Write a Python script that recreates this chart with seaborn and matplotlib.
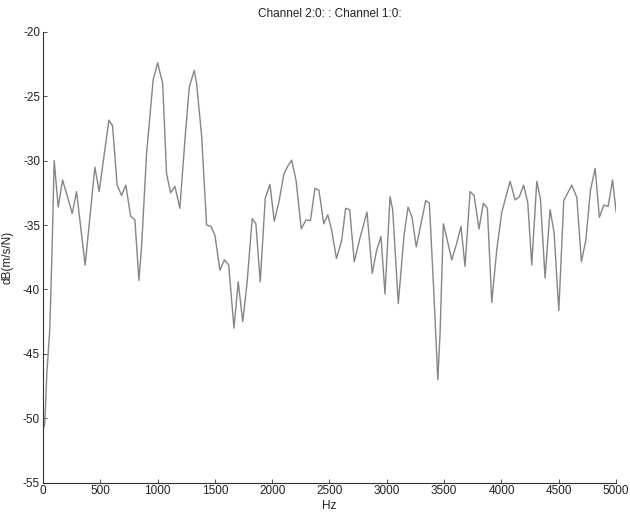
import matplotlib
matplotlib.use("Agg")
import matplotlib.pyplot as plt
import seaborn as sns
import pandas as pd

freq_hz = [0, 17, 35, 61, 81, 99, 134, 172, 215, 256, 294, 369, 454, 491, 576, 608,
           648, 687, 724, 765, 803, 838, 861, 905, 962, 1001, 1045, 1079, 1114, 1152,
           1195, 1239, 1277, 1320, 1341, 1385, 1428, 1466, 1501, 1544, 1584, 1621, 1667,
           1704, 1743, 1780, 1826, 1858, 1896, 1940, 1981, 2018, 2059, 2103, 2138, 2170,
           2208, 2254, 2295, 2334, 2373, 2408, 2450, 2485, 2519, 2561, 2606, 2641, 2676,
           2716, 2766, 2827, 2873, 2910, 2949, 2984, 3028, 3051, 3100, 3150, 3185, 3220,
           3257, 3296, 3339, 3371, 3406, 3445, 3464, 3493, 3528, 3566, 3610, 3647, 3682,
           3726, 3761, 3804, 3842, 3877, 3915, 3959, 4003, 4075, 4119, 4156, 4193, 4229,
           4264, 4308, 4340, 4380, 4424, 4459, 4500, 4543, 4613, 4657, 4697, 4735, 4776,
           4817, 4854, 4893, 4930, 4969, 5000]
level_db = [-51.0, -50.4, -46.5, -43.0, -36.7, -30.0, -33.6, -31.5, -32.8, -34.1, -32.4,
            -38.1, -30.5, -32.4, -26.85, -27.3, -31.9, -32.7, -31.9, -34.3, -34.6, -39.3,
            -36.7, -29.4, -23.75, -22.4, -24.0, -31.0, -32.5, -32.0, -33.7, -28.4, -24.3,
            -23.0, -24.0, -28.1, -35.0, -35.1, -35.8, -38.5, -37.7, -38.1, -43.0, -39.4,
            -42.5, -39.6, -34.5, -34.9, -39.4, -32.9, -31.85, -34.7, -33.2, -31.0, -30.4,
            -29.96, -31.5, -35.3, -34.6, -34.65, -32.15, -32.3, -34.9, -34.2, -35.4, -37.6,
            -36.2, -33.7, -33.8, -37.85, -36.0, -34.0, -38.75, -37.0, -35.9, -40.35, -32.8,
            -33.8, -41.1, -35.8, -33.6, -34.4, -36.7, -35.0, -33.1, -33.3, -39.5, -47.0,
            -43.5, -34.9, -36.2, -37.7, -36.4, -35.1, -38.2, -32.4, -32.7, -35.3, -33.3,
            -33.7, -41.0, -36.9, -34.0, -31.6, -33.05, -32.8, -31.9, -33.25, -38.1, -31.6,
            -33.0, -39.1, -33.8, -35.6, -41.65, -33.1, -31.9, -32.85, -37.85, -36.2, -32.3,
            -30.6, -34.4, -33.45, -33.55, -31.5, -34.0]

x_ticks = [0, 500, 1000, 1500, 2000, 2500, 3000, 3500, 4000, 4500, 5000]
y_ticks = [-55, -50, -45, -40, -35, -30, -25, -20]

title_text = "Channel 2:0: : Channel 1:0:"
x_label = "Hz"
y_label = "dB(m/s/N)"

df = pd.DataFrame({"freq": freq_hz, "db": level_db})

sns.set_style("ticks")
plt.rcParams["font.family"] = ["Liberation Sans", "DejaVu Sans"]
plt.rcParams["axes.unicode_minus"] = False
plt.rcParams["xtick.direction"] = "in"
plt.rcParams["ytick.direction"] = "in"

fig = plt.figure(figsize=(6.3, 5.14), dpi=100)
ax = fig.add_axes([0.068, 0.061, 0.91, 0.877])
sns.lineplot(data=df, x="freq", y="db", ax=ax, color="#858585", linewidth=1.0,
             sort=False, estimator=None)

ax.set_xlim(0, 5000)
ax.set_ylim(-55, -20)
ax.set_xticks(x_ticks)
ax.set_yticks(y_ticks)
ax.tick_params(axis="both", labelsize=8.5, length=3, width=0.6, colors="#333333", pad=2)
for lab in ax.get_xticklabels() + ax.get_yticklabels():
    lab.set_color("#222222")
for s in ["left", "bottom"]:
    ax.spines[s].set_linewidth(0.8)
    ax.spines[s].set_color("#333333")
ax.spines["top"].set_visible(False)
ax.spines["right"].set_visible(False)

ax.set_xlabel(x_label, fontsize=8.5, color="#222222")
ax.xaxis.set_label_coords(0.5, -0.039)
ax.set_ylabel(y_label, fontsize=8.5, color="#222222")
ax.yaxis.set_label_coords(-0.052, 0.5)
ax.set_title(title_text, fontsize=8.5, pad=11, color="#222222")

fig.savefig("out.png", dpi=100)
